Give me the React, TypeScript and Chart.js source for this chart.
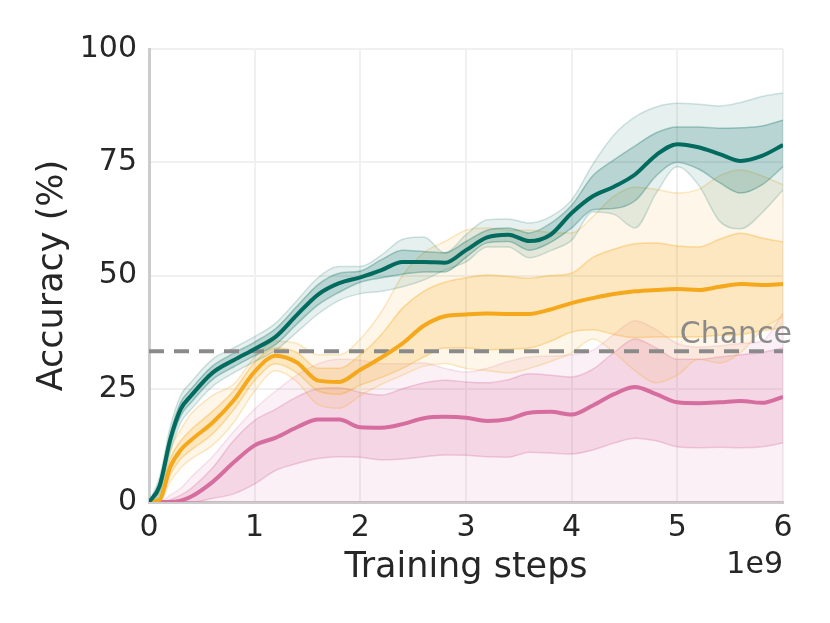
import { useEffect, useRef } from "react"
import { Chart, registerables } from "chart.js"

Chart.register(...registerables)

// training steps, in units of 1e9
const steps = [0, 0.1, 0.2, 0.3, 0.4, 0.6, 0.8, 1.0, 1.2, 1.4, 1.6, 1.8, 2.0, 2.2, 2.4, 2.6, 2.8, 3.0, 3.2, 3.4, 3.6, 3.8, 4.0, 4.2, 4.4, 4.6, 4.8, 5.0, 5.2, 5.4, 5.6, 5.8, 6.0]

const tealMean = [0, 3.5, 13.7, 20.5, 23.5, 28.5, 31.3, 33.8, 36.5, 41.3, 45.8, 48.3, 49.6, 51.2, 53.0, 53.0, 52.8, 55.6, 58.4, 59.0, 57.6, 59.0, 63.8, 67.5, 69.6, 72.3, 76.6, 79.0, 78.3, 76.8, 75.3, 76.4, 78.8]
const tealInnerHigh = [0, 4.5, 15, 22, 25, 30, 32.8, 35.3, 38.3, 43.2, 48, 50.5, 51, 53.5, 55.6, 55.3, 55, 57.5, 60, 60.5, 59.4, 61.5, 65.5, 72, 75.5, 78.6, 81.5, 82.8, 82.8, 82.5, 82.6, 83, 84.3]
const tealInnerLow = [0, 2.5, 12.3, 19, 22, 27, 29.8, 32.3, 34.8, 39.3, 43.5, 46.3, 48.5, 49.5, 50.3, 50.8, 50.8, 54, 57.2, 57.5, 55.6, 57.3, 60.5, 64.5, 64.8, 66.5, 72, 75, 73.5, 70.5, 68.2, 70, 74]
const tealOuterHigh = [0, 5.5, 16.5, 23.5, 26.5, 31.5, 34, 36.5, 39.5, 44.5, 49.5, 52, 52, 54.5, 58, 58.5, 55, 59, 62.3, 62.5, 61.6, 63, 66.7, 74.5, 81, 85, 87.2, 88, 87.8, 87.4, 88.2, 89.5, 90.3]
const tealOuterLow = [0, 1.5, 11, 17.5, 20.5, 25.5, 28.5, 31, 33.5, 37.5, 41.5, 44.5, 46, 46.5, 47.5, 49, 51.2, 53, 56.3, 56.3, 53.9, 55.5, 57.8, 64, 63.5, 60.5, 68.2, 74, 70, 62, 60.3, 63.8, 68.9]

const orangeMean = [0, 0.5, 7.7, 11.5, 13.7, 17.5, 22.4, 28.8, 32.3, 30.8, 26.8, 26.5, 29.2, 31.9, 35, 38.9, 41, 41.4, 41.6, 41.5, 41.5, 42.5, 43.9, 45, 45.9, 46.5, 46.8, 47, 46.8, 47.5, 48.1, 47.9, 48.1]
const orangeInnerHigh = [0, 1, 9.5, 13.5, 16, 20, 24.5, 30.8, 34, 33, 29.5, 29.5, 32.5, 37, 42.8, 46.5, 48.5, 49.5, 50.1, 49.8, 49.4, 50, 50.5, 54, 55.8, 57, 57.2, 56.5, 56.3, 58, 59.3, 58.3, 57.4]
const orangeInnerLow = [0, 0, 6, 9.5, 11.5, 15, 20.3, 26.8, 30.5, 28.5, 24.5, 23.8, 25.8, 27.5, 29.5, 32, 34, 34, 33.6, 33.8, 34, 35.5, 37.5, 38, 37, 36.3, 36.4, 36.4, 36.5, 36.8, 37, 37.8, 38.5]
const orangeOuterHigh = [0, 2, 11.5, 16, 19.5, 23.5, 26, 32, 35.5, 35, 32.5, 32.5, 36, 42, 50, 55, 57.5, 60, 60.5, 60, 60, 59.5, 59.4, 63, 67.5, 69.5, 69, 68.2, 69, 72, 73.3, 72, 70]
const orangeOuterLow = [0, 0, 4.5, 7.5, 9.5, 12.5, 17.5, 24.5, 29, 26.5, 21.5, 20.7, 23.5, 26, 28, 30, 30.6, 29.5, 29, 28.5, 29.5, 31, 32.9, 36, 33, 29, 26.3, 28, 31.5, 30.7, 33, 38, 41]

const pinkMean = [0, 0, 0, 0.3, 1.2, 4.4, 8.7, 12.5, 14.2, 16.5, 18.2, 18.2, 16.5, 16.4, 17.2, 18.5, 18.8, 18.6, 17.9, 18.3, 19.7, 19.9, 19.3, 21.3, 23.8, 25.4, 23.8, 22, 21.8, 22, 22.3, 21.9, 23.2]
const pinkInnerHigh = [0, 0, 0.5, 1.5, 3, 7.5, 13.5, 18, 20.5, 23.2, 25, 25.2, 24.2, 23.6, 25, 26.3, 26.9, 26.5, 26.3, 27, 28.3, 28, 27.6, 29.3, 33, 36, 34, 31.5, 31.5, 32, 32.5, 33, 34]
const pinkInnerLow = [0, 0, 0, 0, 0, 0.8, 1.8, 4, 7, 8.5, 9.6, 10, 9.9, 9.3, 9.5, 10, 10.4, 10.3, 10, 9.9, 11, 10.8, 10.6, 11.5, 13, 14.1, 13.5, 12.2, 12, 12.1, 12, 12.2, 13]
const pinkOuterHigh = [0, 0, 1.5, 3, 5.5, 10, 15.5, 20.5, 24.5, 28, 30.5, 31.5, 31.3, 30.5, 30.5, 30.7, 29.5, 28.7, 29.5, 31, 32, 32.2, 32.5, 33.5, 37, 40, 38, 35, 34.2, 34.5, 35, 35.5, 41.7]
const pinkOuterLow = [0, 0, 0, 0, 0, 0, 0, 0, 0, 0, 0, 0, 0, 0, 0, 0, 0, 0, 0, 0, 0, 0, 0, 0, 0, 0, 0, 0, 0, 0, 0, 0, 0]

const chanceLevel = 33.3
const yTicks = [0, 25, 50, 75, 100]

const FONT = "'DejaVu Sans', sans-serif"
const TEXT = "#262626"

const pts = (vals: number[]) => vals.map((y, i) => ({ x: steps[i], y }))

function band(low: number[], high: number[], rgb: string, fillAlpha: number, edgeAlpha: number, order: number) {
  const common = {
    pointRadius: 0,
    borderWidth: 1.5,
    borderColor: `rgba(${rgb},${edgeAlpha})`,
    cubicInterpolationMode: "monotone" as const,
    order,
  }
  return [
    { ...common, data: pts(low), fill: false },
    { ...common, data: pts(high), fill: "-1", backgroundColor: `rgba(${rgb},${fillAlpha})` },
  ]
}

function meanLine(vals: number[], color: string, order: number) {
  return {
    data: pts(vals),
    borderColor: color,
    borderWidth: 4,
    pointRadius: 0,
    fill: false,
    cubicInterpolationMode: "monotone" as const,
    order,
  }
}

const labelsPlugin = {
  id: "extraLabels",
  afterDraw(chart: any) {
    const { ctx, chartArea, scales } = chart
    ctx.save()
    ctx.font = `30px ${FONT}`
    ctx.textAlign = "right"
    ctx.textBaseline = "alphabetic"
    ctx.fillStyle = "#8a8a8a"
    ctx.fillText("Chance", scales.x.getPixelForValue(6) + 9, scales.y.getPixelForValue(chanceLevel) - 8)
    ctx.fillStyle = TEXT
    ctx.fillText("1e9", chartArea.right, chartArea.bottom + 71)
    ctx.restore()
  },
}

export default function App() {
  const chartRef = useRef<HTMLCanvasElement | null>(null)
  const chartInstance = useRef<Chart | null>(null)

  useEffect(() => {
    if (!chartRef.current) return
    if (chartInstance.current) chartInstance.current.destroy()

    const ctx = chartRef.current.getContext("2d")!
    chartInstance.current = new Chart(ctx, {
      type: "line",
      data: {
        datasets: [
          ...band(pinkOuterLow, pinkOuterHigh, "213,110,158", 0.1, 0.18, 30),
          ...band(pinkInnerLow, pinkInnerHigh, "213,110,158", 0.2, 0.3, 29),
          ...band(orangeOuterLow, orangeOuterHigh, "245,168,28", 0.1, 0.25, 20),
          ...band(orangeInnerLow, orangeInnerHigh, "245,168,28", 0.2, 0.35, 19),
          ...band(tealOuterLow, tealOuterHigh, "0,107,94", 0.1, 0.18, 10),
          ...band(tealInnerLow, tealInnerHigh, "0,107,94", 0.2, 0.3, 9),
          {
            data: [
              { x: 0, y: chanceLevel },
              { x: 6, y: chanceLevel },
            ],
            borderColor: "#8a8a8a",
            borderWidth: 4,
            borderDash: [15, 10],
            pointRadius: 0,
            fill: false,
            order: 5,
          },
          meanLine(pinkMean, "#d56e9e", 2),
          meanLine(orangeMean, "#f5a81c", 1),
          meanLine(tealMean, "#006b5e", 0),
        ] as any,
      },
      options: {
        responsive: true,
        maintainAspectRatio: false,
        animation: false,
        layout: { padding: { top: 49, right: 47, left: 0, bottom: 0 } },
        plugins: {
          legend: { display: false },
          tooltip: { enabled: false },
        },
        scales: {
          x: {
            type: "linear",
            min: 0,
            max: 6,
            afterFit: (scale: any) => {
              scale.height = 121
            },
            ticks: {
              stepSize: 1,
              padding: 8,
              color: TEXT,
              font: { family: FONT, size: 30 },
            },
            grid: { color: "#f0f0f0", lineWidth: 2, drawTicks: false },
            border: { color: "#cccccc", width: 3 },
            title: {
              display: true,
              text: "Training steps",
              color: TEXT,
              font: { family: FONT, size: 35 },
              padding: { top: 0, bottom: 34 },
            },
          },
          y: {
            min: 0,
            max: 100,
            afterFit: (scale: any) => {
              scale.width = 149
            },
            afterBuildTicks: (scale: any) => {
              scale.ticks = yTicks.map((value) => ({ value }))
            },
            ticks: {
              padding: 12,
              color: TEXT,
              font: { family: FONT, size: 30 },
            },
            grid: { color: "#f0f0f0", lineWidth: 2, drawTicks: false },
            border: { color: "#cccccc", width: 3 },
            title: {
              display: true,
              text: "Accuracy (%)",
              color: TEXT,
              font: { family: FONT, size: 35 },
              padding: { top: 32, bottom: 0 },
            },
          },
        },
      },
      plugins: [labelsPlugin],
    })

    return () => {
      if (chartInstance.current) {
        chartInstance.current.destroy()
        chartInstance.current = null
      }
    }
  }, [])

  return (
    <div style={{ position: "fixed", left: 0, top: 0, width: 830, height: 623, background: "#fff" }}>
      <canvas ref={chartRef} />
    </div>
  )
}
